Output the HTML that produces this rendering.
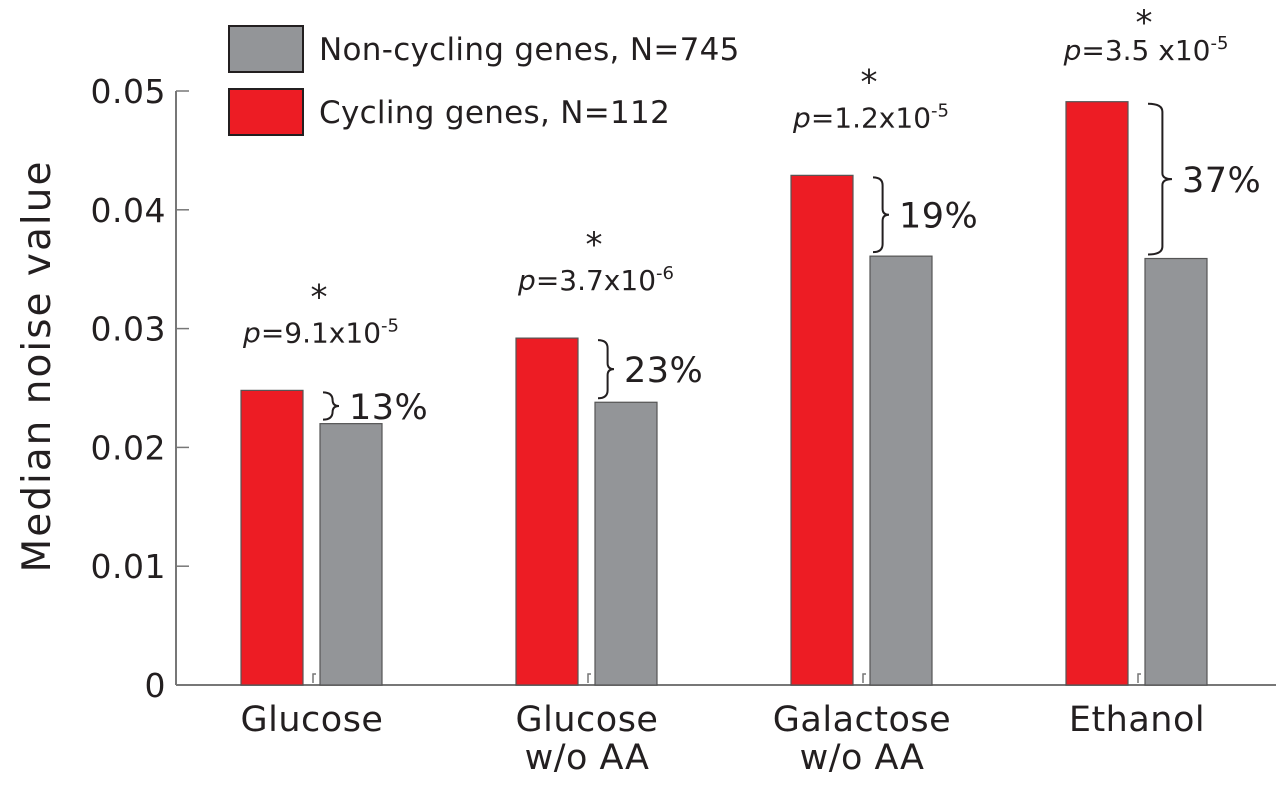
<!DOCTYPE html>
<html><head><meta charset="utf-8"><style>
body{margin:0;background:#fff;}
svg text{font-family:"DejaVu Sans","Liberation Sans",sans-serif;fill:#231f20;}
</style></head><body>
<svg id="chart" width="1280" height="787" xmlns="http://www.w3.org/2000/svg"></svg>
<script>
const categories=[["Glucose"],["Glucose","w/o AA"],["Galactose","w/o AA"],["Ethanol"]];
const cyclingValues=[0.0248,0.0292,0.0429,0.0491];
const nonCyclingValues=[0.0220,0.0238,0.0361,0.0359];
const percentLabels=["13%","23%","19%","37%"];
const pMantissa=["9.1x10","3.7x10","1.2x10","3.5 x10"];
const pExponent=["-5","-6","-5","-5"];
const yTicks=[0,0.01,0.02,0.03,0.04,0.05];
const yTickLabels=["0","0.01","0.02","0.03","0.04","0.05"];

const NS="http://www.w3.org/2000/svg";
const svg=document.getElementById('chart');
const x0=176,y0=685,yTop=91,yMax=0.05;
function yScale(v){return y0-(v/yMax)*(y0-yTop);}
function groupX(i){return 241+i*275;}
function mk(tag,attrs,parent){const e=document.createElementNS(NS,tag);for(const k in attrs)e.setAttribute(k,attrs[k]);(parent||svg).appendChild(e);return e;}

let ax=mk('line',{x1:x0,y1:yTop,x2:x0,y2:y0,stroke:'#777','stroke-width':2});


let bx=mk('line',{x1:x0,y1:y0,x2:1276,y2:y0,stroke:'#777','stroke-width':2});



yTicks.forEach((v,i)=>{
  const y=yScale(v);
  if(v>0){const t=mk('line',{x1:x0,y1:y,x2:x0+13,y2:y,stroke:'#777','stroke-width':1.5});
  
  }
  const l=mk('text',{x:x0-10,y:y+12,'font-size':33,'text-anchor':'end','letter-spacing':0.5});
  l.textContent=yTickLabels[i];
  
  
});
const yt=mk('text',{x:50,y:366,'font-size':39,'text-anchor':'middle','letter-spacing':2,transform:'rotate(-90 50 366)'});
yt.textContent='Median noise value';



categories.forEach((cat,i)=>{
  const gx=groupX(i);
  const ry=yScale(cyclingValues[i]), gy=yScale(nonCyclingValues[i]);
  const r=mk('rect',{x:gx,y:ry,width:62,height:y0-ry,fill:'#ed1c24',stroke:'#555','stroke-width':1.2});
  
  
  const g=mk('rect',{x:gx+79,y:gy,width:62,height:y0-gy,fill:'#939598',stroke:'#555','stroke-width':1.2});
  
  
  const sm=mk('path',{d:`M${gx+72} ${y0-2} v-9 h3`,stroke:'#777',fill:'none','stroke-width':1.5});
  
  
  cat.forEach((line,k)=>{
    const t=mk('text',{x:gx+71,y:731+k*38,'font-size':35,'text-anchor':'middle','letter-spacing':0.5});
    t.textContent=line;
    
    
  });
  const bx0=gx+82, top=ry+2, bot=gy-4, mid=(top+bot)/2, w=(bot-top)>80?24:16;
  const br=mk('path',{d:`M${bx0} ${top} Q${bx0+w*0.6} ${top} ${bx0+w*0.6} ${top+8} L${bx0+w*0.6} ${mid-6} Q${bx0+w*0.6} ${mid} ${bx0+w} ${mid} Q${bx0+w*0.6} ${mid} ${bx0+w*0.6} ${mid+6} L${bx0+w*0.6} ${bot-8} Q${bx0+w*0.6} ${bot} ${bx0} ${bot}`,stroke:'#231f20',fill:'none','stroke-width':2});
  
  
  const pt=mk('text',{x:bx0+w+10,y:mid+13,'font-size':35,'letter-spacing':0.5});
  pt.textContent=percentLabels[i];
  
  
  const pvY=Math.max(ry-48,60);
  const pv=mk('text',{x:gx+80,y:pvY,'font-size':28,'text-anchor':'middle'});
  
  
  const it=mk('tspan',{'font-style':'italic'},pv);it.textContent='p';
  const m=mk('tspan',{},pv);m.textContent='='+pMantissa[i];
  const ex=mk('tspan',{'font-size':18,dy:-11},pv);ex.textContent=pExponent[i];
  const st=mk('text',{x:gx+78,y:Math.max(ry-82,34),'font-size':34,'text-anchor':'middle'});
  st.textContent='*';
  
  
});

const lg=mk('g',{});


[['#939598','Non-cycling genes, N=745',26],['#ed1c24','Cycling genes, N=112',89]].forEach(([c,t,y])=>{
  const s=mk('rect',{x:229,y:y,width:74,height:46,fill:c,stroke:'#231f20','stroke-width':2},lg);
  
  
  const tx=mk('text',{x:319,y:y+34,'font-size':31,'letter-spacing':0.3},lg);
  tx.textContent=t;
  
  
});
</script>
</body></html>
